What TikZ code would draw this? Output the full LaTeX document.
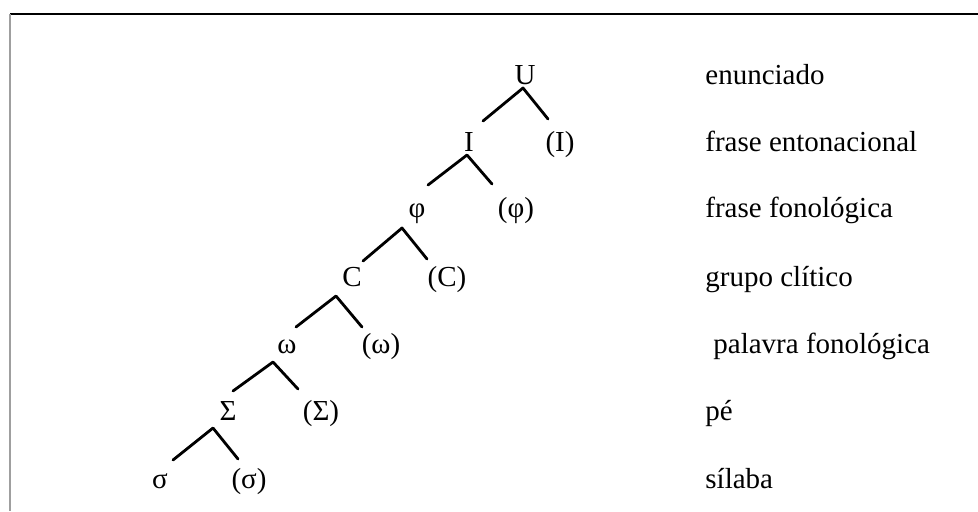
\documentclass[tikz,border=0pt]{standalone}
\usepackage{fontspec}
\setmainfont{Liberation Serif}
\usepackage{tikz}
\usetikzlibrary{calc}
\tikzset{lvl/.style={anchor=base,inner sep=0pt},
  nivel/.style={anchor=base west,inner sep=0pt},
  ramo/.style={line width=1.4pt,line cap=round}}

\begin{document}
\begin{tikzpicture}[x=0.5pt,y=-0.5pt,line join=round,font=\fontsize{14.5}{17}\selectfont]
\useasboundingbox (0,0) rectangle (978,511);
% --- frame (only top and left edge show)
\draw[line width=1pt] (10,14) -- (978,14);
\draw[line width=1pt,gray!75] (10,14) -- (10,511);
% --- prosodic tree
\node[lvl] (U) at (525,84) {U};
\node[lvl] (I) at (469,151) {I};     \node[lvl] (pI) at (560,151) {(I)};
\node[lvl] (phi) at (417,217) {φ};   \node[lvl] (pphi) at (516,217) {(φ)};
\node[lvl] (C) at (352,286) {C};     \node[lvl] (pC) at (447,286) {(C)};
\node[lvl] (omega) at (287,353) {ω}; \node[lvl] (pomega) at (381,353) {(ω)};
\node[lvl] (Sigma) at (228,420) {Σ}; \node[lvl] (pSigma) at (321,420) {(Σ)};
\node[lvl] (sigma) at (160,488) {σ}; \node[lvl] (psigma) at (249,488) {(σ)};
% branch points
\coordinate (aU) at (523,88);  \coordinate (lU) at (483,121); \coordinate (rU) at (548,119);
\coordinate (aI) at (467,155); \coordinate (lI) at (428,185); \coordinate (rI) at (492,184);
\coordinate (aphi) at (402,228); \coordinate (lphi) at (363,261); \coordinate (rphi) at (427,259);
\coordinate (aC) at (336,296); \coordinate (lC) at (296,327); \coordinate (rC) at (362,327);
\coordinate (aomega) at (273,362); \coordinate (lomega) at (233,391); \coordinate (romega) at (298,389);
\coordinate (aSigma) at (213,428); \coordinate (lSigma) at (173,460); \coordinate (rSigma) at (238,459);
\draw[ramo] (lU) -- (aU) -- (rU);
\draw[ramo] (lI) -- (aI) -- (rI);
\draw[ramo] (lphi) -- (aphi) -- (rphi);
\draw[ramo] (lC) -- (aC) -- (rC);
\draw[ramo] (lomega) -- (aomega) -- (romega);
\draw[ramo] (lSigma) -- (aSigma) -- (rSigma);
% --- level names
\node[nivel] (nU) at (705,84) {enunciado};
\node[nivel] (nI) at (705,151) {frase entonacional};
\node[nivel] (nphi) at (705,217) {frase fonológica};
\node[nivel] (nC) at (705,286) {grupo clítico};
\node[nivel] (nomega) at (713,353) {palavra fonológica};
\node[nivel] (nSigma) at (705,420) {pé};
\node[nivel] (nsigma) at (705,488) {sílaba};
\end{tikzpicture}
\end{document}
